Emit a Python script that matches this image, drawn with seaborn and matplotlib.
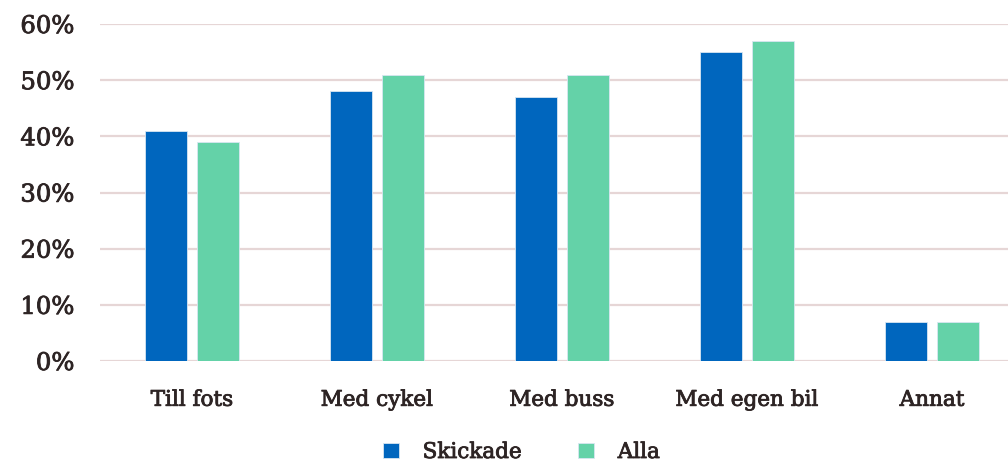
import matplotlib
matplotlib.use("Agg")
import matplotlib.pyplot as plt
import matplotlib.patheffects as pe
import seaborn as sns
import pandas as pd
from matplotlib.ticker import PercentFormatter

categories = ["Till fots", "Med cykel", "Med buss", "Med egen bil", "Annat"]
skickade = [41, 48, 47, 55, 7]
alla = [39, 51, 51, 57, 7]
series = ["Skickade", "Alla"]
colors = ["#0066BE", "#64D2A8"]
text_color = "#2d2424"

df = pd.DataFrame({
    "kategori": categories * 2,
    "serie": [series[0]] * len(categories) + [series[1]] * len(categories),
    "andel": skickade + alla,
})

sns.set_style("white")
plt.rcParams["font.family"] = ["DejaVu Serif"]

fig = plt.figure(figsize=(10.08, 4.63), dpi=100)
# plot area runs a little past the right edge, as in the original
ax = fig.add_axes([99.5 / 1008, 1 - 361 / 463, 925 / 1008, 337 / 463])

sns.barplot(data=df, x="kategori", y="andel", hue="serie", palette=colors,
            saturation=1, width=0.562, gap=0.21, ax=ax,
            edgecolor="#d8e6f2", linewidth=0.6)

ax.set_ylim(0, 60)
ax.set_yticks(range(0, 61, 10))
ax.yaxis.set_major_formatter(PercentFormatter(decimals=0))
ax.grid(axis="y", color="#e6d6d6", linewidth=1.6)
ax.set_axisbelow(True)
for s in ax.spines.values():
    s.set_visible(False)
ax.set_xlabel("")
ax.set_ylabel("")
ax.tick_params(axis="y", labelsize=17.5, colors=text_color, length=0, pad=18)
ax.tick_params(axis="x", labelsize=15.5, colors=text_color, length=0, pad=20)
ax.set_xlim(-0.5, 4.5)

leg = ax.legend(loc="center", bbox_to_anchor=(0.456, -0.27), ncol=2,
                frameon=False, fontsize=15.5, labelcolor=text_color,
                handlelength=0.75, handleheight=0.75, handletextpad=1.1,
                columnspacing=2.6)

# the original type is a bit heavier than DejaVu Serif regular
heavier = [pe.withStroke(linewidth=0.6, foreground=text_color)]
for t in ax.get_xticklabels() + ax.get_yticklabels() + leg.get_texts():
    t.set_path_effects(heavier)

fig.savefig("out.png", dpi=100)
